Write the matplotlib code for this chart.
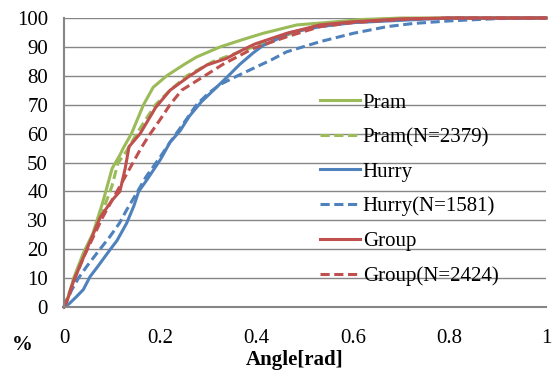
import matplotlib
matplotlib.use("Agg")
import matplotlib.pyplot as plt

# Data (CDF curves, % vs angle in rad)
pram_x = [0, 0.01, 0.02, 0.04, 0.06, 0.08, 0.10, 0.116, 0.123, 0.14, 0.165, 0.185, 0.213, 0.25, 0.275, 0.324, 0.37, 0.413, 0.483, 0.55, 0.62, 0.7, 1.0]
pram_y = [0, 4, 10, 18.6, 25.5, 36, 48, 52.6, 55, 60, 70, 76, 80, 84, 86.5, 90, 92.5, 94.7, 97.6, 98.5, 99.5, 100, 100]

pramN_x = [0, 0.02, 0.04, 0.06, 0.08, 0.099, 0.112, 0.13, 0.151, 0.17, 0.19, 0.22, 0.255, 0.31, 0.393, 0.462, 0.531, 0.6, 0.7, 1.0]
pramN_y = [0, 9, 17, 25, 33, 41.6, 49.8, 54, 60, 65, 70, 75, 80, 85, 90, 94.1, 97.6, 99, 99.8, 100]

hurry_x = [0, 0.01, 0.026, 0.04, 0.054, 0.07, 0.095, 0.11, 0.13, 0.145, 0.155, 0.172, 0.2, 0.22, 0.241, 0.26, 0.285, 0.31, 0.338, 0.365, 0.393, 0.413, 0.44, 0.47, 0.531, 0.6, 0.7, 0.8, 1.0]
hurry_y = [0, 1, 3.6, 6, 10.5, 14, 19.7, 23, 29, 35, 40, 44, 51, 57, 61, 66, 71, 75, 79.5, 84, 88, 90.5, 92.5, 95, 97, 98.4, 99.2, 100, 100]

hurryN_x = [0, 0.016, 0.03, 0.047, 0.07, 0.095, 0.115, 0.13, 0.151, 0.17, 0.2, 0.22, 0.25, 0.275, 0.3, 0.324, 0.36, 0.393, 0.43, 0.462, 0.531, 0.6, 0.67, 0.724, 0.8, 0.9, 1.0]
hurryN_y = [0, 5.9, 10, 14, 19, 24.3, 29, 33.6, 39.5, 45, 52, 57, 64, 70, 74, 77, 80, 82.6, 85.5, 88.3, 91.8, 94.7, 97, 98.1, 99, 99.8, 100]

group_x = [0, 0.005, 0.02, 0.035, 0.05, 0.075, 0.1, 0.116, 0.127, 0.135, 0.158, 0.19, 0.22, 0.261, 0.296, 0.337, 0.365, 0.396, 0.462, 0.531, 0.6, 0.7, 0.8, 1.0]
group_y = [0, 1.5, 9, 15, 21, 31, 37, 40, 48, 55.5, 60, 69, 75, 80, 83.7, 86, 88.5, 91, 94.7, 97.6, 98.7, 99.7, 100, 100]

groupN_x = [0, 0.01, 0.02, 0.04, 0.06, 0.08, 0.1, 0.12, 0.14, 0.16, 0.175, 0.2, 0.22, 0.244, 0.292, 0.33, 0.393, 0.462, 0.531, 0.6, 0.7, 0.8, 1.0]
groupN_y = [0, 4, 9, 17, 24, 31, 37, 43, 49, 55, 59, 65, 70, 75, 80, 84, 89.5, 93.5, 97, 98.4, 99.5, 100, 100]

labels = ["Pram", "Pram(N=2379)", "Hurry", "Hurry(N=1581)", "Group", "Group(N=2424)"]
x_ticks = [0, 0.2, 0.4, 0.6, 0.8, 1]
x_ticklabels = ["0", "0.2", "0.4", "0.6", "0.8", "1"]
y_ticks = list(range(0, 101, 10))

GREEN = "#9BBB59"
BLUE = "#4F81BD"
RED = "#C0504D"
GRID = "#868686"
FS = 15

plt.rcParams['font.family'] = ['Liberation Serif', 'DejaVu Serif']

fig = plt.figure(figsize=(5.52, 3.71), dpi=100)
ax = fig.add_axes([64/552, (371-307)/371, (546-64)/552, (307-18)/371])

lw = 2.2
series = [
    (pram_x, pram_y, GREEN, '-'),
    (pramN_x, pramN_y, GREEN, '--'),
    (hurry_x, hurry_y, BLUE, '-'),
    (hurryN_x, hurryN_y, BLUE, '--'),
    (group_x, group_y, RED, '-'),
    (groupN_x, groupN_y, RED, '--'),
]
for (xs, ys, c, ls), lab in zip(series, labels):
    kw = dict(color=c, lw=lw, label=lab, clip_on=False, solid_joinstyle='round')
    if ls == '--':
        kw['dashes'] = (3.0, 1.5)
    ax.plot(xs, ys, **kw)

ax.set_xlim(0, 1)
ax.set_ylim(0, 100)
ax.set_xticks(x_ticks)
ax.set_xticklabels(x_ticklabels)
ax.set_yticks(y_ticks)
ax.tick_params(axis='both', length=0, labelsize=FS)
ax.tick_params(axis='y', pad=11.5)
ax.tick_params(axis='x', pad=16)
ax.yaxis.grid(True, color=GRID, lw=1)
ax.set_axisbelow(True)
for s in ['top', 'right']:
    ax.spines[s].set_visible(False)
for s in ['left', 'bottom']:
    ax.spines[s].set_color(GRID)
    ax.spines[s].set_linewidth(1.5)

fig.text(22/552, 1 - 345/371, "%", fontsize=FS, fontweight='bold', ha='center', va='center')
fig.text(295/552, 1 - 360/371, "Angle[rad]", fontsize=FS, fontweight='bold', ha='center', va='center')

leg = ax.legend(loc='upper left', bbox_to_anchor=(320/552, 1 - 93/371), bbox_transform=fig.transFigure,
                frameon=False, fontsize=FS, handlelength=1.9, handletextpad=0.15,
                labelspacing=0.72, borderaxespad=0, borderpad=0)

fig.savefig("out.png", dpi=100)
